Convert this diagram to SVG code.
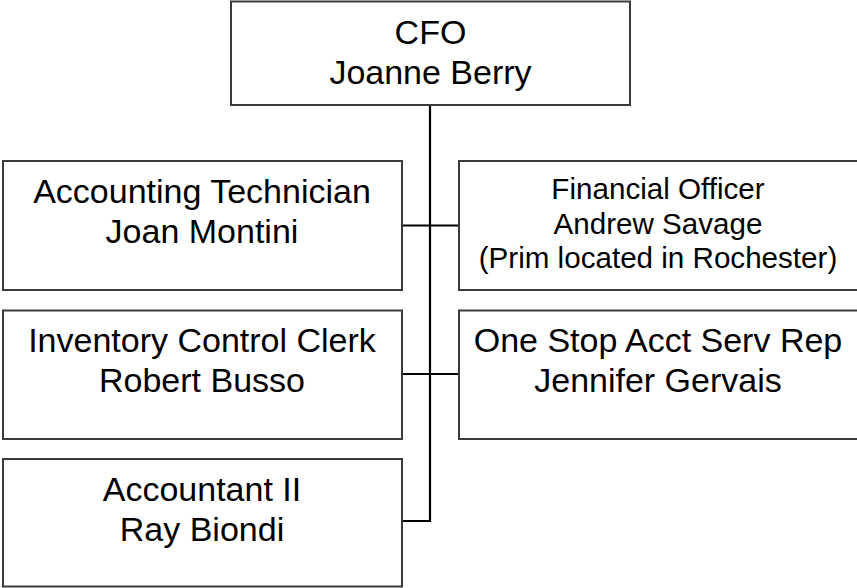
<svg xmlns="http://www.w3.org/2000/svg" width="857" height="588" viewBox="0 0 857 588">
  <style>
    .box { fill: #ffffff; stroke: #3a3a3a; stroke-width: 2; }
    .link { fill: none; stroke: #000000; stroke-width: 2.2; }
    .lbl { font-family: "Liberation Sans", Arial, sans-serif; fill: #000000; text-anchor: middle; }
    .big { font-size: 34px; }
    .small { font-size: 29.6px; }
  </style>
  <rect width="857" height="588" fill="#ffffff"/>

  <!-- reporting lines -->
  <g id="connectors">
    <path class="link" d="M430 105 V521 H402"/>
    <path class="link" d="M402 225.5 H459"/>
    <path class="link" d="M402 374 H459"/>
  </g>

  <g id="cfo">
    <rect class="box" x="231" y="1.5" width="399" height="103.5"/>
    <text class="lbl big" x="430.5" y="43.5">CFO</text>
    <text class="lbl big" x="430.5" y="83.5">Joanne Berry</text>
  </g>

  <g id="accounting-technician">
    <rect class="box" x="3" y="161" width="399" height="129"/>
    <text class="lbl big" x="202" y="203.3">Accounting Technician</text>
    <text class="lbl big" x="202" y="243.3">Joan Montini</text>
  </g>

  <g id="financial-officer">
    <rect class="box" x="459" y="161" width="402" height="129"/>
    <text class="lbl small" x="658" y="199.3">Financial Officer</text>
    <text class="lbl small" x="658" y="233.8">Andrew Savage</text>
    <text class="lbl small" x="658" y="268.3">(Prim located in Rochester)</text>
  </g>

  <g id="inventory-control-clerk">
    <rect class="box" x="3" y="310.5" width="399" height="128.5"/>
    <text class="lbl big" x="202" y="352.3">Inventory Control Clerk</text>
    <text class="lbl big" x="202" y="392.3">Robert Busso</text>
  </g>

  <g id="one-stop-rep">
    <rect class="box" x="459" y="310.5" width="402" height="128.5"/>
    <text class="lbl big" x="658" y="352.3">One Stop Acct Serv Rep</text>
    <text class="lbl big" x="658" y="392.3">Jennifer Gervais</text>
  </g>

  <g id="accountant-ii">
    <rect class="box" x="3" y="459" width="399" height="127.5"/>
    <text class="lbl big" x="202" y="500.6">Accountant II</text>
    <text class="lbl big" x="202" y="540.6">Ray Biondi</text>
  </g>
</svg>
